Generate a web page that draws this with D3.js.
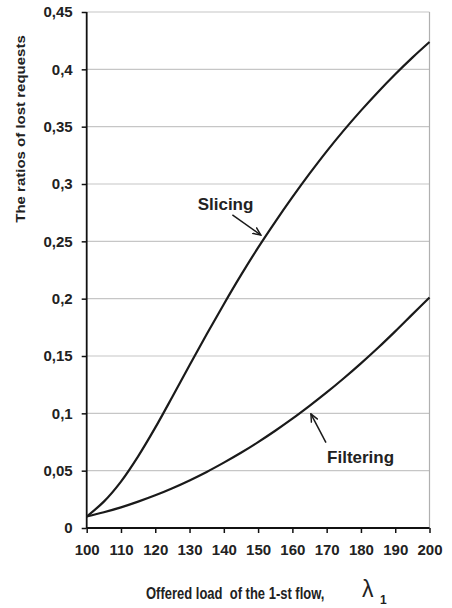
<!DOCTYPE html>
<html>
<head>
<meta charset="utf-8">
<script src="https://cdn.jsdelivr.net/npm/d3@7"></script>
<style>
  html, body { margin: 0; padding: 0; background: #fff; }
  svg { display: block; }
  text { font-family: "Liberation Sans", Arial, sans-serif; }
</style>
</head>
<body>
<svg id="chart" width="452" height="608"></svg>
<script>
// ---- data ----
const loads = [100, 105, 110, 115, 120, 125, 130, 135, 140, 145, 150, 155, 160, 165, 170, 175, 180, 185, 190, 195, 200];
const slicing = [0.010, 0.023, 0.0405, 0.0625, 0.0875, 0.1145, 0.142, 0.169, 0.1952, 0.2205, 0.2445, 0.267, 0.2885, 0.309, 0.3285, 0.3468, 0.364, 0.3803, 0.3957, 0.4102, 0.4238];
const filtering = [0.0100, 0.0137, 0.0180, 0.0230, 0.0285, 0.0347, 0.0415, 0.0489, 0.0570, 0.0656, 0.0749, 0.0848, 0.0953, 0.1065, 0.1182, 0.1306, 0.1436, 0.1572, 0.1715, 0.1863, 0.2010];
const xTicks = [100, 110, 120, 130, 140, 150, 160, 170, 180, 190, 200];
const yTicks = [0, 0.05, 0.1, 0.15, 0.2, 0.25, 0.3, 0.35, 0.4, 0.45];
const yTickLabels = ["0", "0,05", "0,1", "0,15", "0,2", "0,25", "0,3", "0,35", "0,4", "0,45"];
// annotation anchors in data units: label position, arrow start, arrow tip
const annotations = [
  { name: "Slicing",   label: [140.5, 0.2775], from: [142.5, 0.273], to: [150.8, 0.2555] },
  { name: "Filtering", label: [179.9, 0.057],  from: [169.8, 0.0744], to: [165.4, 0.0995] }
];

// ---- layout ----
const svg = d3.select("#chart");
const x = d3.scaleLinear().domain([100, 200]).range([86.7, 429.5]);
const y = d3.scaleLinear().domain([0, 0.45]).range([528, 12]);

// grid lines
svg.append("g").selectAll("line")
  .data(yTicks.filter(d => d > 0))
  .join("line")
  .attr("x1", x(100)).attr("x2", x(200))
  .attr("y1", d => y(d)).attr("y2", d => y(d))
  .attr("stroke", "#c6c6c6").attr("stroke-width", 1.2);

// right border
svg.append("line")
  .attr("x1", x(200)).attr("x2", x(200))
  .attr("y1", y(0.45)).attr("y2", y(0))
  .attr("stroke", "#b0b0b0").attr("stroke-width", 1.2);

// y axis
const yAxis = svg.append("g")
  .attr("transform", `translate(${x(100)},0)`)
  .call(d3.axisLeft(y).tickValues(yTicks).tickFormat((d, i) => yTickLabels[i]).tickSize(5).tickPadding(9));
yAxis.select(".domain").attr("stroke", "#111").attr("stroke-width", 1.8).attr("d", `M0,${y(0.45)}V${y(0)}`);
yAxis.selectAll(".tick line").attr("stroke", "#111").attr("stroke-width", 1.5);
yAxis.selectAll(".tick text")
  .attr("font-family", "Liberation Sans, Arial, sans-serif")
  .attr("font-size", 15).attr("font-weight", "bold").attr("fill", "#222");

// x axis
const xAxis = svg.append("g")
  .attr("transform", `translate(0,${y(0)})`)
  .call(d3.axisBottom(x).tickValues(xTicks).tickFormat(d3.format("d")).tickSize(5).tickPadding(11));
xAxis.select(".domain").attr("stroke", "#111").attr("stroke-width", 1.8).attr("d", `M${x(100)},0H${x(200)}`);
xAxis.selectAll(".tick line").attr("stroke", "#111").attr("stroke-width", 1.5);
xAxis.selectAll(".tick text")
  .attr("font-family", "Liberation Sans, Arial, sans-serif")
  .attr("font-size", 15).attr("font-weight", "bold").attr("fill", "#222");

// curves
const line = d3.line()
  .x((d, i) => x(loads[i]))
  .y(d => y(d))
  .curve(d3.curveCatmullRom.alpha(0.5));

svg.append("g").selectAll("path")
  .data([slicing, filtering])
  .join("path")
  .attr("d", d => line(d))
  .attr("fill", "none")
  .attr("stroke", "#1a1a1a")
  .attr("stroke-width", 2.2)
  .attr("stroke-linejoin", "round");

// annotations
svg.append("defs").append("marker")
  .attr("id", "arr")
  .attr("viewBox", "0 0 10 10")
  .attr("refX", 9).attr("refY", 5)
  .attr("markerWidth", 9).attr("markerHeight", 9)
  .attr("markerUnits", "userSpaceOnUse")
  .attr("orient", "auto")
  .append("path")
  .attr("d", "M0,1 L9,5 L0,9")
  .attr("fill", "none").attr("stroke", "#1a1a1a").attr("stroke-width", 1.6);

const ann = svg.append("g");
ann.selectAll("line")
  .data(annotations)
  .join("line")
  .attr("x1", d => x(d.from[0])).attr("y1", d => y(d.from[1]))
  .attr("x2", d => x(d.to[0])).attr("y2", d => y(d.to[1]))
  .attr("stroke", "#1a1a1a").attr("stroke-width", 1.5)
  .attr("marker-end", "url(#arr)");
ann.selectAll("text")
  .data(annotations)
  .join("text")
  .attr("x", d => x(d.label[0])).attr("y", d => y(d.label[1]))
  .attr("text-anchor", "middle")
  .attr("font-size", 17).attr("font-weight", "bold").attr("fill", "#222")
  .text(d => d.name);

// y axis title
svg.append("text")
  .attr("transform", "translate(24.5,129) scale(0.8,1) rotate(-90)")
  .attr("text-anchor", "middle")
  .attr("font-size", 15).attr("font-weight", "bold").attr("fill", "#222")
  .text("The ratios of lost requests");

// x axis title (glyphs taller than wide, as in the reference)
svg.append("text")
  .attr("transform", "translate(146,599) scale(1,1.3)")
  .attr("font-size", 13).attr("font-weight", "bold").attr("fill", "#222")
  .attr("xml:space", "preserve")
  .text("Offered load  of the 1-st flow,");
svg.append("text")
  .attr("x", 362).attr("y", 597)
  .attr("font-family", "DejaVu Serif, Liberation Serif, serif")
  .attr("font-size", 23).attr("fill", "#222")
  .text("λ");
svg.append("text")
  .attr("x", 380).attr("y", 604)
  .attr("font-size", 12).attr("font-weight", "bold").attr("fill", "#222")
  .text("1");
</script>
</body>
</html>
